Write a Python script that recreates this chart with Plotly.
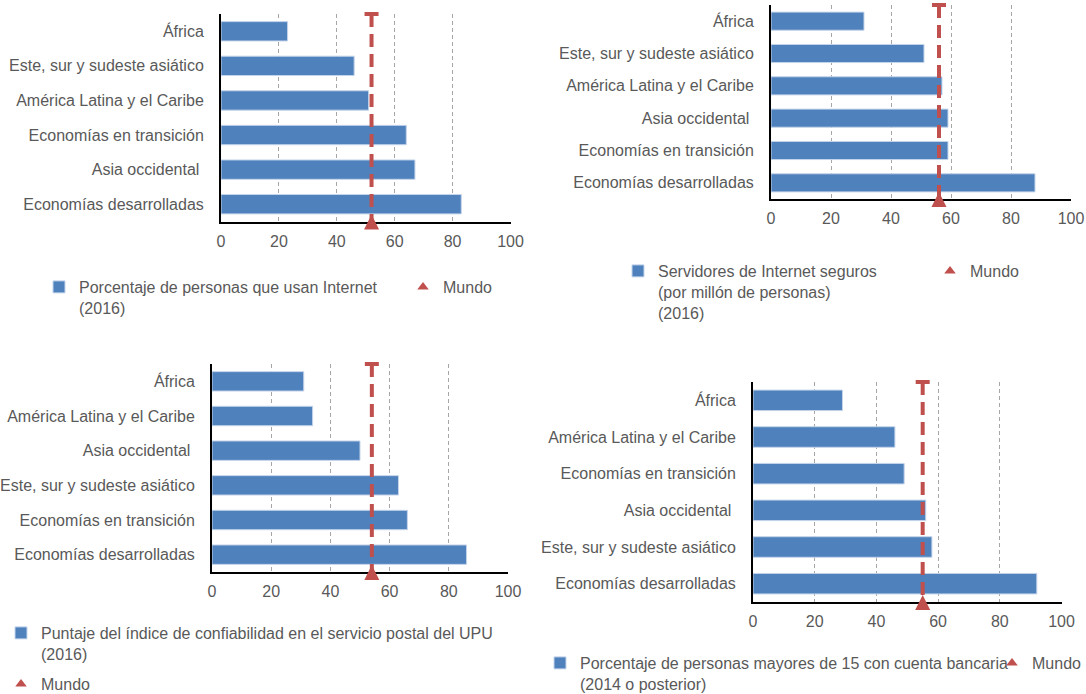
import plotly.graph_objects as go

W, H = 1086, 694
BLUE = "#4F81BD"
RED = "#C0504D"
TXT = "#595959"
FONT = "Liberation Sans, Arial, sans-serif"

# ---------------- data ----------------
x_ticks = [0, 20, 40, 60, 80, 100]
mundo_name = "Mundo"

cats1 = ["África", "Este, sur y sudeste asiático", "América Latina y el Caribe",
         "Economías en transición", "Asia occidental\u00a0", "Economías desarrolladas"]
vals1 = [23, 46, 51, 64, 67, 83]
mundo1 = 52
name1 = "Porcentaje de personas que usan Internet<br>(2016)"

cats2 = ["África", "Este, sur y sudeste asiático", "América Latina y el Caribe",
         "Asia occidental\u00a0", "Economías en transición", "Economías desarrolladas"]
vals2 = [31, 51, 57, 59, 59, 88]
mundo2 = 56
name2 = "Servidores de Internet seguros<br>(por millón de personas)<br>(2016)"

cats3 = ["África", "América Latina y el Caribe", "Asia occidental\u00a0",
         "Este, sur y sudeste asiático", "Economías en transición", "Economías desarrolladas"]
vals3 = [31, 34, 50, 63, 66, 86]
mundo3 = 54
name3 = "Puntaje del índice de confiabilidad en el servicio postal del UPU<br>(2016)"

cats4 = ["África", "América Latina y el Caribe", "Economías en transición",
         "Asia occidental\u00a0", "Este, sur y sudeste asiático", "Economías desarrolladas"]
vals4 = [29, 46, 49, 56, 58, 92]
mundo4 = 55
name4 = "Porcentaje de personas mayores de 15 con cuenta bancaria<br>(2014 o posterior)"

# ---------------- layout helpers (pixel -> paper) ----------------
def px(p):
    return p / W

def py(p):
    return 1 - p / H

panels = [
    dict(cats=cats1, vals=vals1, mundo=mundo1, name=name1,
         xpx=(221, 510.5), ypx=(14, 221.5), leg_bar=(83, 287), leg_m=(447, 287)),
    dict(cats=cats2, vals=vals2, mundo=mundo2, name=name2,
         xpx=(771, 1071), ypx=(5, 199), leg_bar=(662, 271), leg_m=(974, 271)),
    dict(cats=cats3, vals=vals3, mundo=mundo3, name=name3,
         xpx=(212, 508), ypx=(364, 572), leg_bar=(45, 633), leg_m=(45, 684)),
    dict(cats=cats4, vals=vals4, mundo=mundo4, name=name4,
         xpx=(753, 1061.5), ypx=(382, 602), leg_bar=(584, 663), leg_m=(1036, 663)),
]

fig = go.Figure()
layout = {}

TEXT_OFF = 44   # legend text offset from legend left edge
LINE_OFF = 17   # first text line centre below legend top

for i, p in enumerate(panels):
    k = i + 1
    xa = "x" if k == 1 else f"x{k}"
    ya = "y" if k == 1 else f"y{k}"
    lb = "legend" if k == 1 else f"legend{2 * k - 1}"
    lm = f"legend{2 * k}"
    n = len(p["cats"])
    pos = list(range(n))

    fig.add_trace(go.Bar(
        x=p["vals"], y=pos, orientation="h", name=p["name"],
        marker=dict(color=BLUE, line=dict(color="#C5D5EA", width=1)),
        xaxis=xa, yaxis=ya, legend=lb, hoverinfo="x",
    ))
    # dashed world-average line with its top cap and bottom triangle
    fig.add_trace(go.Scatter(
        x=[p["mundo"], p["mundo"]], y=[-0.5, n - 0.5], mode="lines",
        line=dict(color=RED, width=4, dash="13px,7px"),
        xaxis=xa, yaxis=ya, showlegend=False, hoverinfo="skip",
    ))
    fig.add_trace(go.Scatter(
        x=[p["mundo"]], y=[-0.5], mode="markers",
        marker=dict(symbol="line-ew", size=10, line=dict(color=RED, width=4)),
        xaxis=xa, yaxis=ya, showlegend=False, cliponaxis=False, hoverinfo="skip",
    ))
    fig.add_trace(go.Scatter(
        x=[p["mundo"]], y=[n - 0.5], mode="markers", name=mundo_name,
        marker=dict(symbol="arrow-down", angle=180, size=15, color=RED, standoff=7,
                    line=dict(width=0)),
        xaxis=xa, yaxis=ya, showlegend=False, cliponaxis=False,
    ))
    # legend entry for the world average
    fig.add_trace(go.Scatter(
        x=[None], y=[None], mode="markers", name=mundo_name,
        marker=dict(symbol="triangle-up", size=10, color=RED),
        xaxis=xa, yaxis=ya, legend=lm, hoverinfo="skip",
    ))

    xkey = "xaxis" if k == 1 else f"xaxis{k}"
    ykey = "yaxis" if k == 1 else f"yaxis{k}"
    layout[xkey] = dict(
        domain=[px(p["xpx"][0]), px(p["xpx"][1])], anchor=ya,
        range=[0, 100], tickvals=x_ticks, ticks="", ticklabelstandoff=4,
        showgrid=True, gridcolor="#A6A6A6", griddash="4px,3px", gridwidth=1,
        showline=True, linecolor="black", linewidth=2, zeroline=False,
        tickfont=dict(size=16, color=TXT, family=FONT), layer="below traces",
        fixedrange=True,
    )
    layout[ykey] = dict(
        domain=[py(p["ypx"][1]), py(p["ypx"][0])], anchor=xa,
        range=[n - 0.5, -0.5], tickvals=pos, ticktext=p["cats"], ticks="",
        ticklabelstandoff=12, showgrid=False,
        showline=True, linecolor="black", linewidth=2, zeroline=False,
        tickfont=dict(size=16, color=TXT, family=FONT), layer="below traces",
        fixedrange=True,
    )
    for key, (tx, ty) in ((lb, p["leg_bar"]), (lm, p["leg_m"])):
        layout[key] = dict(
            x=px(tx - TEXT_OFF), y=py(ty - LINE_OFF), xanchor="left", yanchor="top",
            xref="paper", yref="paper", bgcolor="rgba(0,0,0,0)", valign="top",
            font=dict(size=16, color=TXT, family=FONT), itemsizing="trace",
            orientation="v",
        )

fig.update_layout(
    width=W, height=H, margin=dict(l=0, r=0, t=0, b=0, autoexpand=False),
    paper_bgcolor="white", plot_bgcolor="white",
    bargap=0.44, font=dict(family=FONT, color=TXT, size=16),
    **layout,
)

fig.write_html("out.html", config={"displayModeBar": False})
